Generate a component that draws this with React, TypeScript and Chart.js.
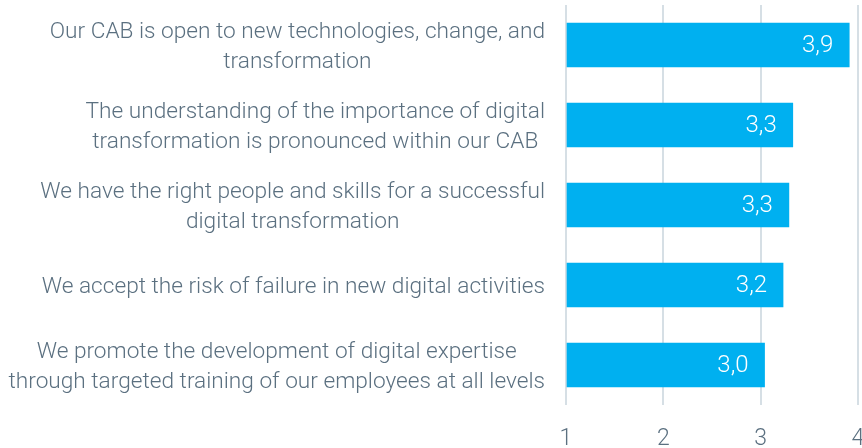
import React, { useEffect, useRef } from "react";
import { Chart, registerables } from "chart.js";

Chart.register(...registerables);

const categories: string[][] = [
  ["Our CAB is open to new technologies, change, and", "transformation"],
  ["The understanding of the importance of digital", "transformation is pronounced within our CAB"],
  ["We have the right people and skills for a successful", "digital transformation"],
  ["We accept the risk of failure in new digital activities"],
  ["We promote the development of digital expertise", "through targeted training of our employees at all levels"],
];
const values: number[] = [3.91, 3.33, 3.29, 3.23, 3.04];
const xTicks: number[] = [1, 2, 3, 4];

const FONT = "Roboto, 'Noto Sans', sans-serif";
const TEXT_COLOR = "#5b7080";
const BAR_COLOR = "#00b0f0";

const labelPlugin = {
  id: "customLabels",
  afterDraw(chart: any) {
    const ctx = chart.ctx;
    const yScale = chart.scales.y;
    ctx.save();
    ctx.font = `300 22px ${FONT}`;
    let widest = 0;
    categories.forEach((lines) => lines.forEach((l) => (widest = Math.max(widest, ctx.measureText(l).width))));
    const size = Math.min(24, (22 * 537) / widest);
    ctx.font = `300 ${size}px ${FONT}`;
    ctx.fillStyle = TEXT_COLOR;
    ctx.textAlign = "center";
    ctx.textBaseline = "middle";
    const lh = 30;
    const rightEdge = chart.chartArea.left - 21;
    categories.forEach((lines, i) => {
      const maxW = Math.max(...lines.map((l) => ctx.measureText(l).width));
      const cx = rightEdge - maxW / 2;
      const cy = yScale.getPixelForValue(i) + 2;
      const start = cy - ((lines.length - 1) * lh) / 2;
      lines.forEach((l, j) => ctx.fillText(l, cx, start + j * lh));
    });
    const meta = chart.getDatasetMeta(0);
    ctx.font = `300 24px ${FONT}`;
    ctx.fillStyle = "#ffffff";
    ctx.textAlign = "right";
    meta.data.forEach((bar: any, i: number) => {
      const txt = values[i].toFixed(1).replace(".", ",");
      ctx.fillText(txt, bar.x - 16, bar.y + 1);
    });
    ctx.restore();
  },
};

export default function App() {
  const ref = useRef<HTMLCanvasElement>(null);
  useEffect(() => {
    if (!ref.current) return;
    const chart = new Chart(ref.current, {
      type: "bar",
      data: {
        labels: categories.map((c) => c.join(" ")),
        datasets: [
          {
            data: values,
            backgroundColor: BAR_COLOR,
            barThickness: 44,
            base: 1,
          },
        ],
      },
      options: {
        indexAxis: "y",
        animation: false,
        responsive: false,
        maintainAspectRatio: false,
        layout: { padding: { top: 5, right: 4, left: 0, bottom: 0 } },
        plugins: { legend: { display: false }, tooltip: { enabled: false } },
        scales: {
          x: {
            type: "linear",
            min: 1,
            max: 4,
            afterBuildTicks: (scale: any) => {
              scale.ticks = xTicks.map((v) => ({ value: v }));
            },
            afterFit: (scale: any) => {
              scale.height = 43;
              scale.paddingLeft = 0;
              scale.paddingRight = 0;
            },
            grid: { color: "#d6dfe5", lineWidth: 2, drawTicks: false },
            border: { display: false },
            ticks: {
              padding: 20,
              color: TEXT_COLOR,
              font: { family: FONT, size: 23, weight: "300" },
            },
          },
          y: {
            type: "category",
            afterFit: (scale: any) => {
              scale.width = 566;
            },
            grid: { display: false },
            border: { display: false },
            ticks: { display: false },
          },
        },
      },
      plugins: [labelPlugin],
    });
    return () => chart.destroy();
  }, []);
  return (
    <div style={{ position: "fixed", left: 0, top: 0, width: 862, height: 448, background: "#fff" }}>
      <canvas ref={ref} width={862} height={448} style={{ width: 862, height: 448 }} />
    </div>
  );
}
